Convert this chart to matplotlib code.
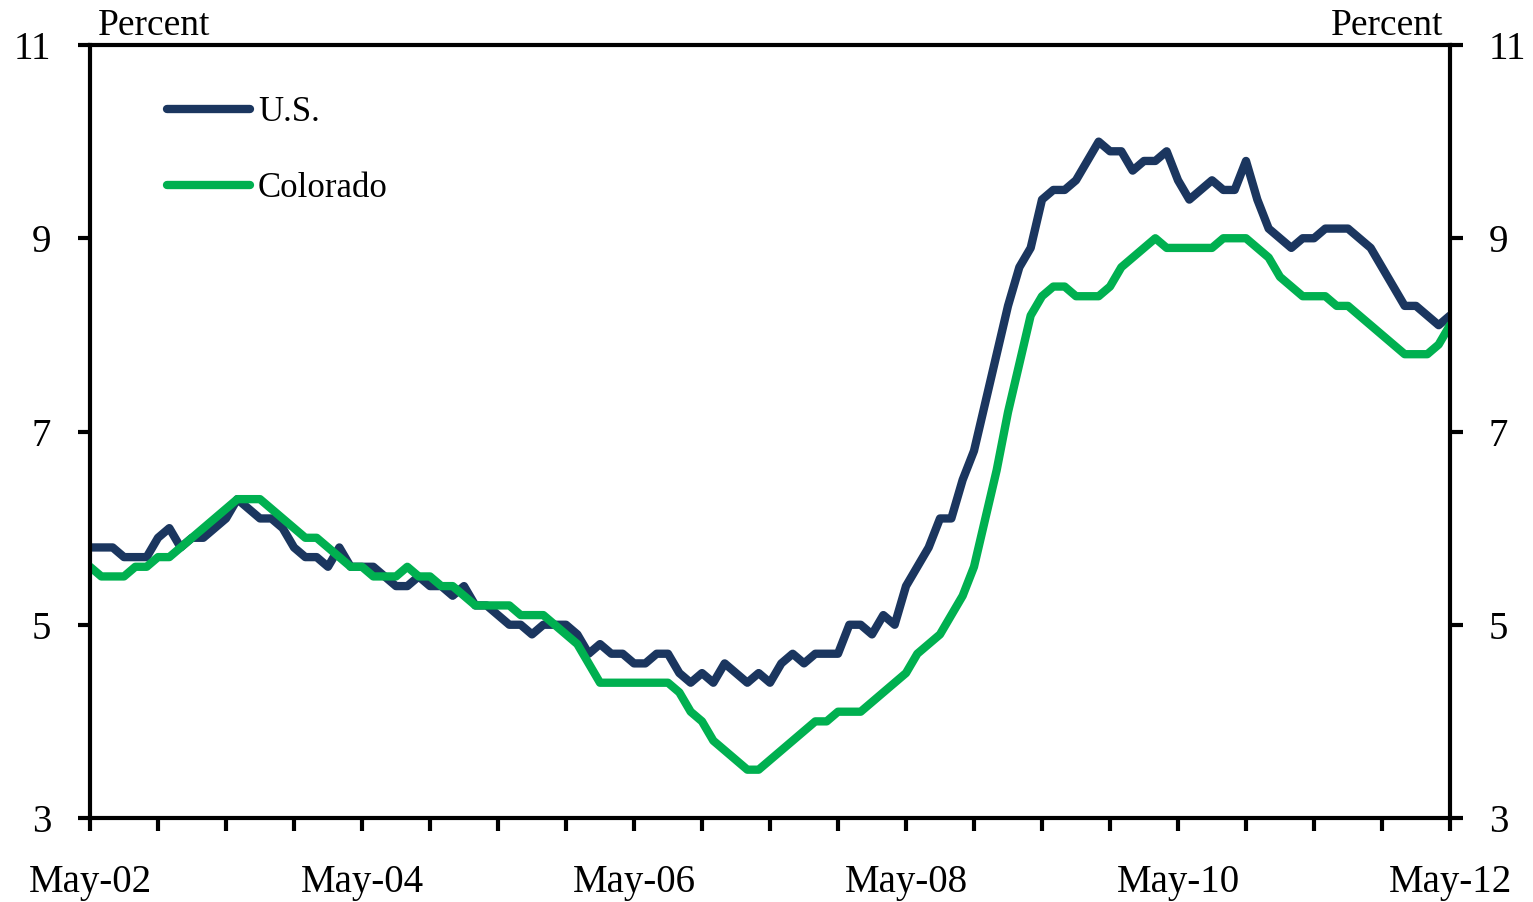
import numpy as np
import matplotlib
matplotlib.use("Agg")
import matplotlib.pyplot as plt

# Unemployment rate, monthly May-02 .. May-12
us = [5.8, 5.8, 5.8, 5.7, 5.7, 5.7, 5.9, 6.0, 5.8, 5.9, 5.9, 6.0,
      6.1, 6.3, 6.2, 6.1, 6.1, 6.0, 5.8, 5.7, 5.7, 5.6, 5.8, 5.6,
      5.6, 5.6, 5.5, 5.4, 5.4, 5.5, 5.4, 5.4, 5.3, 5.4, 5.2, 5.2,
      5.1, 5.0, 5.0, 4.9, 5.0, 5.0, 5.0, 4.9, 4.7, 4.8, 4.7, 4.7,
      4.6, 4.6, 4.7, 4.7, 4.5, 4.4, 4.5, 4.4, 4.6, 4.5, 4.4, 4.5,
      4.4, 4.6, 4.7, 4.6, 4.7, 4.7, 4.7, 5.0, 5.0, 4.9, 5.1, 5.0,
      5.4, 5.6, 5.8, 6.1, 6.1, 6.5, 6.8, 7.3, 7.8, 8.3, 8.7, 8.9,
      9.4, 9.5, 9.5, 9.6, 9.8, 10.0, 9.9, 9.9, 9.7, 9.8, 9.8, 9.9,
      9.6, 9.4, 9.5, 9.6, 9.5, 9.5, 9.8, 9.4, 9.1, 9.0, 8.9, 9.0,
      9.0, 9.1, 9.1, 9.1, 9.0, 8.9, 8.7, 8.5, 8.3, 8.3, 8.2, 8.1,
      8.2]

colorado = [5.6, 5.5, 5.5, 5.5, 5.6, 5.6, 5.7, 5.7, 5.8, 5.9, 6.0, 6.1,
            6.2, 6.3, 6.3, 6.3, 6.2, 6.1, 6.0, 5.9, 5.9, 5.8, 5.7, 5.6,
            5.6, 5.5, 5.5, 5.5, 5.6, 5.5, 5.5, 5.4, 5.4, 5.3, 5.2, 5.2,
            5.2, 5.2, 5.1, 5.1, 5.1, 5.0, 4.9, 4.8, 4.6, 4.4, 4.4, 4.4,
            4.4, 4.4, 4.4, 4.4, 4.3, 4.1, 4.0, 3.8, 3.7, 3.6, 3.5, 3.5,
            3.6, 3.7, 3.8, 3.9, 4.0, 4.0, 4.1, 4.1, 4.1, 4.2, 4.3, 4.4,
            4.5, 4.7, 4.8, 4.9, 5.1, 5.3, 5.6, 6.1, 6.6, 7.2, 7.7, 8.2,
            8.4, 8.5, 8.5, 8.4, 8.4, 8.4, 8.5, 8.7, 8.8, 8.9, 9.0, 8.9,
            8.9, 8.9, 8.9, 8.9, 9.0, 9.0, 9.0, 8.9, 8.8, 8.6, 8.5, 8.4,
            8.4, 8.4, 8.3, 8.3, 8.2, 8.1, 8.0, 7.9, 7.8, 7.8, 7.8, 7.9,
            8.1]

tick_labels = ["May-02", "May-04", "May-06", "May-08", "May-10", "May-12"]
y_ticks = [3, 5, 7, 9, 11]

plt.rcParams['font.family'] = ['Liberation Serif', 'DejaVu Serif']

months = np.arange(len(us))

fig = plt.figure(figsize=(15.33, 9.02), dpi=100)
ax = fig.add_axes([90 / 1533, 1 - 818 / 902, 1360 / 1533, 773 / 902])

ax.plot(months, us, color='#1B365F', lw=6, solid_joinstyle='round',
        solid_capstyle='round', label='U.S.')
ax.plot(months, colorado, color='#00B050', lw=6, solid_joinstyle='round',
        solid_capstyle='round', label='Colorado')

ax.set_xlim(0, 120)
ax.set_ylim(3, 11)

# x ticks: every 6 months, labels every 2 years
ax.set_xticks(np.arange(0, 121, 24))
ax.set_xticklabels(tick_labels)
ax.set_xticks(np.arange(0, 121, 6), minor=True)
ax.tick_params(axis='x', which='both', direction='out', length=9, width=3,
               labelsize=28, pad=24)

ax.set_yticks(y_ticks)
ax.tick_params(axis='y', which='both', direction='out', length=9, width=3,
               labelsize=28, pad=19, left=True, right=True,
               labelleft=True, labelright=True)

for s in ax.spines.values():
    s.set_linewidth(3)

ax.text(0.006, 1.0 + 10 / 773, "Percent", transform=ax.transAxes,
        ha='left', va='baseline', fontsize=27)
ax.text(0.995, 1.0 + 10 / 773, "Percent", transform=ax.transAxes,
        ha='right', va='baseline', fontsize=27)

leg = ax.legend(loc='upper left', bbox_to_anchor=(0.0566, 0.934),
                frameon=False, fontsize=25, handlelength=2.4,
                handletextpad=0.22, labelspacing=1.25, borderpad=0,
                borderaxespad=0)

fig.savefig("out.png", dpi=100)
